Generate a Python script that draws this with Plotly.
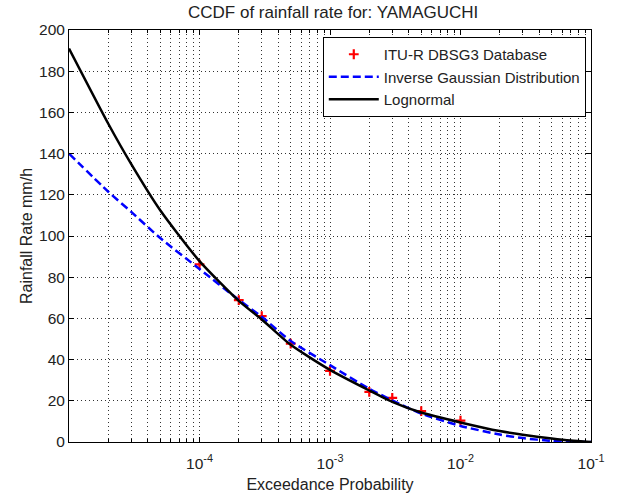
import plotly.graph_objects as go

# Measured data (ITU-R DBSG3)
data_p = [1e-4, 2e-4, 3e-4, 5e-4, 1e-3, 2e-3, 3e-3, 5e-3, 1e-2]
data_r = [86.2, 68.9, 61.1, 47.8, 34.5, 24.3, 21.4, 15.0, 10.4]

# Curve samples
curve_p = [1e-5, 2e-5, 3e-5, 5e-5, 1e-4, 2e-4, 3e-4,
           5e-4, 1e-3, 2e-3, 3e-3, 5e-3, 1e-2, 2e-2,
           3e-2, 5e-2, 7e-2, 1e-1]
lognormal_r = [191, 154.5, 134.9, 112.5, 87.8, 68.5, 59.5,
               47.2, 35, 25, 19.5, 14.3, 9.5, 5.3,
               3.5, 1.7, 0.7, 0]
invgauss_r = [140, 121.5, 111.7, 99, 84, 69, 60.8,
              49, 37.3, 25.8, 20.2, 13.8, 7.8, 3.6,
              1.9, 0.5, 0.1, 0]

x_tickvals = [1e-4, 1e-3, 1e-2, 1e-1]
x_ticktext = ["10<sup>-4</sup>", "10<sup>-3</sup>", "10<sup>-2</sup>", "10<sup>-1</sup>"]
x_minorvals = [k * 10.0 ** e for e in (-5, -4, -3, -2) for k in range(2, 10)]

FONT = "Liberation Sans, Arial, sans-serif"
FS = 15.5
TXT = "#222"

fig = go.Figure()
fig.add_trace(go.Scatter(
    x=data_p, y=data_r, mode="markers", name="ITU-R DBSG3 Database",
    marker=dict(symbol="cross-thin", size=7, color="red",
                line=dict(color="red", width=2.2))))
fig.add_trace(go.Scatter(
    x=curve_p, y=invgauss_r, mode="lines", name="Inverse Gaussian Distribution",
    line=dict(color="#0000ff", width=2.5, dash="8px,4px", shape="spline", smoothing=0.6)))
fig.add_trace(go.Scatter(
    x=curve_p, y=lognormal_r, mode="lines", name="Lognormal",
    line=dict(color="black", width=2.5, shape="spline", smoothing=0.6)))

grid = dict(showgrid=True, gridcolor="#333", griddash="1px,3px", gridwidth=1)

fig.update_layout(
    width=617, height=499,
    margin=dict(l=69, r=26, t=30, b=57),
    paper_bgcolor="white", plot_bgcolor="white",
    font=dict(family=FONT, size=FS, color=TXT),
    title=dict(text="CCDF of rainfall rate for: YAMAGUCHI", x=0.54, xanchor="center",
               y=0.976, yanchor="middle", font=dict(size=17, family=FONT, color=TXT)),
    showlegend=True,
    legend=dict(x=0.99, y=0.983, xanchor="right", yanchor="top",
                bgcolor="white", bordercolor="black", borderwidth=1,
                font=dict(size=15, family=FONT, color=TXT),
                tracegroupgap=0, itemwidth=50),
    xaxis=dict(
        type="log", range=[-5, -1], automargin=False,
        tickmode="array", tickvals=x_tickvals, ticktext=x_ticktext,
        ticks="inside", ticklen=5, tickcolor="black", ticklabelstandoff=7,
        showline=True, linecolor="black", linewidth=1, mirror="ticks",
        minor=dict(tickmode="array", tickvals=x_minorvals, ticks="inside", ticklen=3,
                   tickcolor="black", **grid),
        zeroline=False,
        title=dict(text="Exceedance Probability", standoff=8,
                   font=dict(size=16, family=FONT, color=TXT)),
        tickfont=dict(size=FS, family=FONT, color=TXT),
        **grid,
    ),
    yaxis=dict(
        range=[0, 200], dtick=20, automargin=False,
        ticks="inside", ticklen=5, tickcolor="black",
        showline=True, linecolor="black", linewidth=1, mirror="ticks",
        zeroline=False,
        title=dict(text="Rainfall Rate mm/h", standoff=2,
                   font=dict(size=16, family=FONT, color=TXT)),
        tickfont=dict(size=FS, family=FONT, color=TXT),
        **grid,
    ),
)

fig.write_html("out.html")
